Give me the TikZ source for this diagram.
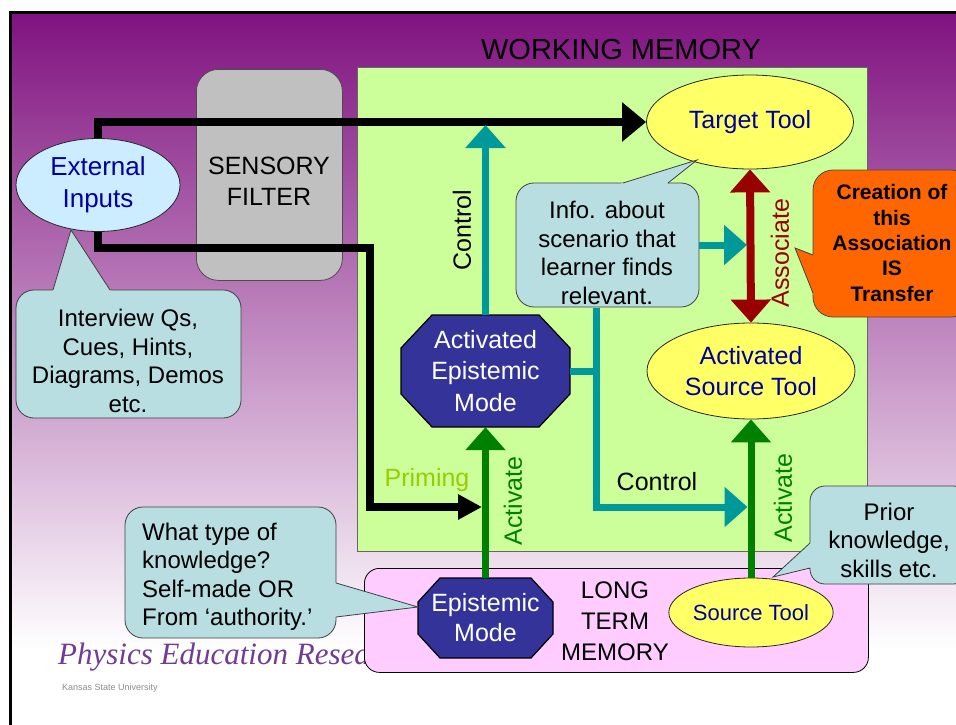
\documentclass[tikz,border=0pt]{standalone}
\usepackage{fontspec}
\setmainfont{Liberation Sans}
\newfontfamily\logofont{Liberation Serif}
\usetikzlibrary{arrows.meta,shapes.geometric,calc}

\definecolor{bgpurple}{RGB}{128,18,128}
\definecolor{wmgreen}{RGB}{204,255,153}
\definecolor{sfgray}{RGB}{192,192,192}
\definecolor{extblue}{RGB}{204,236,255}
\definecolor{callblue}{RGB}{184,222,226}
\definecolor{tyellow}{RGB}{255,255,102}
\definecolor{octblue}{RGB}{51,51,153}
\definecolor{txtblue}{RGB}{0,0,160}
\definecolor{tealc}{RGB}{0,153,153}
\definecolor{darkredc}{RGB}{153,0,0}
\definecolor{orangec}{RGB}{255,102,0}
\definecolor{greenc}{RGB}{0,128,0}
\definecolor{primec}{RGB}{153,204,0}
\definecolor{ltmpink}{RGB}{255,204,255}
\definecolor{logopurple}{RGB}{112,60,150}

% color, base1, tip, base2, inward fraction
\newcommand\mypointer[5]{%
  \fill[#1] ($(#2)!-#5!(#3)$) -- (#3) -- ($(#4)!-#5!(#3)$) -- cycle;
  \draw[ptrline] (#2) -- (#3) -- (#4);}
% cx cy w h dx dy
\newcommand\myoctagon[6]{%
  \filldraw[octshape] ({#1-#3/2+#5},{#2-#4/2}) -- ({#1+#3/2-#5},{#2-#4/2})
    -- ({#1+#3/2},{#2-#4/2+#6}) -- ({#1+#3/2},{#2+#4/2-#6})
    -- ({#1+#3/2-#5},{#2+#4/2}) -- ({#1-#3/2+#5},{#2+#4/2})
    -- ({#1-#3/2},{#2+#4/2-#6}) -- ({#1-#3/2},{#2-#4/2+#6}) -- cycle;}

\begin{document}
\begin{tikzpicture}[x=1pt,y=-1pt,
  fa/.style={font=\fontsize{24}{28.5}\selectfont},
  fb/.style={font=\fontsize{25}{31}\selectfont},
  txt/.style={inner sep=0pt,align=center},
  callbox/.style={draw=black!75,line width=0.8pt,fill=callblue,rounded corners=18pt,inner sep=0pt},
  ptrline/.style={draw=black!75,line width=0.8pt,line join=miter},
  tool/.style={ellipse,draw=black!85,line width=0.8pt,fill=tyellow,inner sep=0pt,text=txtblue,align=center},
  octshape/.style={fill=octblue,draw=black,line width=1.2pt},
  octtext/.style={inner sep=0pt,text=white,align=center},
  blackarrow/.style={draw=black,line width=8pt,-{Triangle[length=24pt,width=38pt]}},
  tealarrow/.style={draw=tealc,line width=7pt,-{Triangle[length=23pt,width=39pt]}},
  greenarrow/.style={draw=greenc,line width=7pt,-{Triangle[length=23pt,width=39pt]}},
  redarrow/.style={draw=darkredc,line width=8pt,{Triangle[length=23pt,width=39pt]}-{Triangle[length=23pt,width=39pt]}}
]
\useasboundingbox (0,0) rectangle (956,725);
\clip (0,0) rectangle (956,725);
\fill[white] (0,0) rectangle (956,725);
\shade[top color=bgpurple,bottom color=white] (10,12) rectangle (960,650);
\draw[line width=3pt] (10.5,730) -- (10.5,12.5) -- (960,12.5);

% logo (partly hidden by long term memory box)
\node[anchor=base west,inner sep=0pt,text=logopurple,font=\logofont\itshape\fontsize{31}{31}\selectfont] (logo) at (58,664) {Physics Education Research};
\node[anchor=base west,inner sep=0pt,text=black!45,font=\fontsize{9}{9}\selectfont] (ksu) at (62,690) {Kansas State University};

% working memory
\node[draw=black!60,line width=0.8pt,fill=wmgreen,minimum width=510pt,minimum height=484pt,inner sep=0pt,anchor=north west] (wm) at (357,67) {};
\node[txt,font=\fontsize{29}{29}\selectfont] (wmtitle) at (621,50) {WORKING MEMORY};

% sensory filter
\node[draw=black!70,line width=0.8pt,fill=sfgray,rounded corners=22pt,minimum width=146pt,minimum height=211pt,inner sep=0pt,anchor=north west] (sf) at (196,69) {};
\node[txt,fb] (sftext) at (269,181.5) {SENSORY\\FILTER};

% long term memory
\node[draw=black,line width=0.8pt,fill=ltmpink,rounded corners=15pt,minimum width=504pt,minimum height=104pt,inner sep=0pt,anchor=north west] (ltm) at (364,568) {};
\node[txt,font=\fontsize{24}{31}\selectfont] (ltmtext) at (615,621) {LONG\\TERM\\MEMORY};

% ellipses
\node[ellipse,draw=black!85,line width=0.8pt,fill=extblue,minimum width=164pt,minimum height=93pt,inner sep=0pt,text=txtblue,align=center,font=\fontsize{26}{32}\selectfont] (ext) at (98,185) {External\\Inputs};
\node[tool,minimum width=207pt,minimum height=94pt,font=\fontsize{25}{31}\selectfont] (tt) at (750,122) {Target Tool};
\node[tool,minimum width=208pt,minimum height=96pt,font=\fontsize{25}{31}\selectfont] (ast) at (751,371) {Activated\\Source Tool};
\node[tool,minimum width=149pt,minimum height=69pt,font=\fontsize{22}{26}\selectfont] (st) at (751,612.5) {Source Tool};

% black input arrows
\coordinate (primetip) at (482,507);
\draw[blackarrow] (ext.north) |- (tt.west);
\draw[draw=black,line width=8pt,-{Triangle[length=24pt,width=24pt]}] (ext.south) |- (370,248) |- (primetip);

% octagons
\myoctagon{485.5}{371}{169}{112}{31}{33}
\node[octtext,minimum width=169pt,minimum height=112pt,font=\fontsize{25}{31.5}\selectfont] (aem) at (485.5,371) {Activated\\Epistemic\\Mode};
\myoctagon{485.5}{618}{135}{80}{22}{24}
\node[octtext,minimum width=135pt,minimum height=80pt,font=\fontsize{25}{30}\selectfont] (em) at (485.5,618) {Epistemic\\Mode};

% green activate arrows
\draw[greenarrow] (em.north) -- (aem.south);
\draw[greenarrow] (st.north) -- (ast.south);

% info callout
\node[callbox,minimum width=183pt,minimum height=124pt] (info) at (607.5,245) {};
\mypointer{callblue}{623,183}{697,160}{668,183}{0.3}
\node[txt,fa] (infotext) at (607,253) {Info. about\\scenario that\\learner finds\\relevant.};

% teal control arrows
\coordinate (ctop) at (485.5,125);
\coordinate (infobot) at (596,307.5);
\coordinate (ctrltip) at (747.5,507);
\coordinate (branch) at (599.5,371);
\coordinate (assoctip) at (747,245);
\draw[tealarrow] (aem.north) -- (ctop);
\draw[draw=tealc,line width=7pt] (aem.east) -- (branch);
\draw[tealarrow] (infobot) |- (ctrltip);
\draw[tealarrow] (info.east) -- (assoctip);

% associate
\draw[redarrow] (tt.south) -- (ast.north);

% labels
\node[txt,fb,rotate=90] (ctrlv) at (462,230) {Control};
\node[txt,fb,rotate=90,text=darkredc] (assoc) at (780,253) {Associate};
\node[txt,fb,rotate=90,text=greenc] (act1) at (513,501) {Activate};
\node[txt,fb,rotate=90,text=greenc] (act2) at (783,498) {Activate};
\node[txt,fb,text=primec] (prim) at (427,480) {Priming};
\node[txt,fb] (ctrlh) at (657,482) {Control};

% orange callout
\node[draw=black!70,line width=0.8pt,fill=orangec,rounded corners=20pt,minimum width=158pt,minimum height=147pt,inner sep=0pt] (orng) at (892,243.5) {};
\mypointer{orangec}{813,255}{795,248}{813,293}{0.2}
\node[txt,font=\bfseries\fontsize{21}{25.3}\selectfont] (orngtext) at (892,243) {Creation of\\this\\Association\\IS\\Transfer};

% interview callout
\node[callbox,minimum width=225pt,minimum height=128pt] (intv) at (128.5,354) {};
\mypointer{callblue}{53,290}{71,230}{110,290}{0.3}
\node[txt,fa] (intvtext) at (128,361) {Interview Qs,\\Cues, Hints,\\Diagrams, Demos\\etc.};

% what type callout
\node[callbox,minimum width=211pt,minimum height=131pt] (what) at (230.5,572.5) {};
\mypointer{callblue}{336,583}{418,607}{336,617}{0.3}
\node[inner sep=0pt,align=left,anchor=west,fa] (whattext) at (142,577) {What type of\\knowledge?\\Self-made OR\\From ‘authority.’};

% prior knowledge callout
\node[callbox,rounded corners=15pt,minimum width=158pt,minimum height=98pt] (prior) at (889,535) {};
\mypointer{callblue}{810,543}{773,577}{810,568}{0.3}
\node[txt,fa] (priortext) at (889,540) {Prior\\knowledge,\\skills etc.};
\end{tikzpicture}
\end{document}
